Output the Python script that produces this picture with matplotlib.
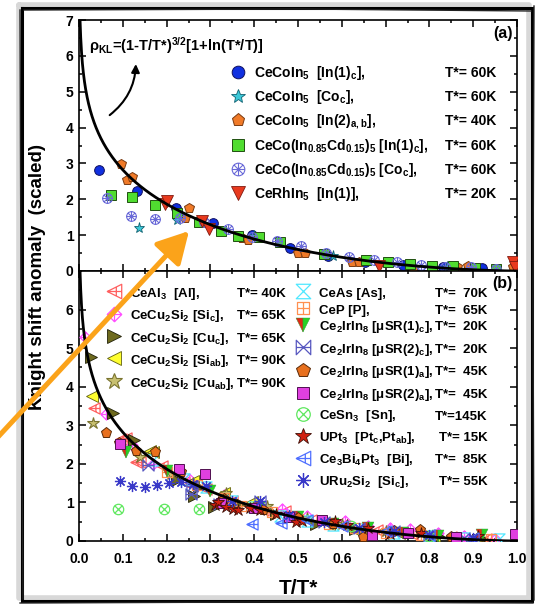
import numpy as np
import matplotlib
matplotlib.use('Agg')
import matplotlib.pyplot as plt
from matplotlib.path import Path
from matplotlib.ticker import MultipleLocator

plt.rcParams.update({
    'font.family': ['Liberation Sans', 'DejaVu Sans'],
    'font.weight': 'bold',
    'mathtext.fontset': 'custom',
    'mathtext.rm': 'Liberation Sans:bold',
    'mathtext.it': 'Liberation Sans:bold',
    'mathtext.bf': 'Liberation Sans:bold',
    'mathtext.sf': 'Liberation Sans:bold',
})

# ---------------- data: panel (a) ----------------
a_in1c_t = [0.045, 0.133, 0.221, 0.307, 0.395, 0.481, 0.568, 0.653, 0.74, 0.83, 0.92]
a_in1c_v = [2.83, 2.23, 1.77, 1.33, 1.00, 0.63, 0.43, 0.24, 0.18, 0.12, 0.07]
a_coc_t = [0.136, 0.224, 0.40, 0.58, 0.84]
a_coc_v = [1.20, 1.42, 0.98, 0.42, 0.10]
a_in2_t = [0.095, 0.11, 0.12, 0.241, 0.25, 0.372, 0.385, 0.50, 0.516, 0.623, 0.64, 0.762, 0.863, 0.888, 0.99]
a_in2_v = [2.99, 2.53, 2.63, 1.49, 1.75, 0.91, 0.87, 0.49, 0.50, 0.26, 0.26, 0.08, 0.12, 0.14, 0.12]
a_cd_in1c_t = [0.073, 0.122, 0.173, 0.223, 0.273, 0.324, 0.363, 0.412, 0.46, 0.56, 0.655, 0.706, 0.756, 0.805, 0.853, 0.904, 0.952]
a_cd_in1c_v = [2.11, 2.05, 1.84, 1.62, 1.37, 1.12, 0.98, 0.94, 0.80, 0.47, 0.31, 0.24, 0.19, 0.15, 0.13, 0.09, 0.06]
a_cd_coc_t = [0.064, 0.119, 0.174, 0.23, 0.285, 0.341, 0.395, 0.451, 0.507, 0.563, 0.616, 0.673, 0.727, 0.78, 0.836, 0.894, 0.952]
a_cd_coc_v = [2.03, 1.52, 1.44, 1.47, 1.37, 1.17, 0.96, 0.84, 0.69, 0.50, 0.38, 0.31, 0.24, 0.18, 0.12, 0.10, 0.06]
a_rh_t = [0.197, 0.202, 0.281, 0.297, 0.685, 0.99, 0.995]
a_rh_v = [1.88, 1.94, 1.40, 1.17, 0.15, 0.24, 0.10]

a_labels = [r'CeCoIn$_5$  [In(1)$_c$],', r'CeCoIn$_5$  [Co$_c$],', r'CeCoIn$_5$  [In(2)$_{a,b}$],',
            r'CeCo(In$_{0.85}$Cd$_{0.15}$)$_5$ [In(1)$_c$],', r'CeCo(In$_{0.85}$Cd$_{0.15}$)$_5$ [Co$_c$],',
            r'CeRhIn$_5$  [In(1)],']
a_tstar = ['T*= 60K', 'T*= 60K', 'T*= 40K', 'T*= 60K', 'T*= 60K', 'T*= 20K']

# ---------------- data: panel (b) ----------------
b_al_t = [0.035, 0.095, 0.108, 0.13, 0.139, 0.19, 0.24, 0.29, 0.35, 0.42, 0.47, 0.53, 0.60, 0.68, 0.76, 0.85, 0.93]
b_al_v = [3.44, 2.64, 2.66, 2.05, 2.04, 1.95, 1.52, 1.35, 1.05, 0.80, 0.78, 0.55, 0.42, 0.28, 0.18, 0.10, 0.05]
b_sic_t = [0.013, 0.062, 0.12, 0.17, 0.25, 0.33, 0.40, 0.464, 0.52, 0.607, 0.66, 0.71, 0.755, 0.82, 0.88, 0.95]
b_sic_v = [5.28, 3.29, 2.50, 2.00, 1.60, 1.20, 0.95, 0.84, 0.65, 0.52, 0.40, 0.33, 0.30, 0.20, 0.12, 0.06]
b_cuc_t = [0.028, 0.078, 0.125, 0.224, 0.262, 0.274, 0.309, 0.37, 0.45, 0.54, 0.63, 0.72, 0.82, 0.92]
b_cuc_v = [4.76, 3.32, 2.63, 1.58, 1.17, 1.40, 0.89, 0.95, 0.70, 0.45, 0.30, 0.20, 0.12, 0.06]
b_siab_t = [0.030, 0.162, 0.17, 0.26, 0.33, 0.394, 0.48, 0.57, 0.643, 0.73, 0.81, 0.90]
b_siab_v = [3.76, 2.34, 2.30, 1.55, 1.25, 1.00, 0.62, 0.45, 0.22, 0.20, 0.14, 0.07]
b_cuab_t = [0.033, 0.139, 0.209, 0.26, 0.335, 0.43, 0.52, 0.60, 0.70, 0.80]
b_cuab_v = [3.05, 2.17, 1.75, 1.50, 1.25, 0.90, 0.60, 0.45, 0.25, 0.13]
b_ceas_t = [0.17, 0.24, 0.29, 0.35, 0.40, 0.46, 0.52, 0.58, 0.65, 0.72, 0.80, 0.88, 0.96]
b_ceas_v = [2.10, 1.62, 1.40, 1.05, 0.88, 0.65, 0.52, 0.42, 0.30, 0.22, 0.13, 0.08, 0.04]
b_cep_t = [0.20, 0.27, 0.33, 0.37, 0.44, 0.50, 0.57, 0.63, 0.70, 0.78, 0.86, 0.94]
b_cep_v = [1.80, 1.45, 1.12, 0.92, 0.75, 0.58, 0.45, 0.35, 0.22, 0.16, 0.09, 0.05]
b_mu1c_t = [0.107, 0.20, 0.30, 0.41, 0.50, 0.58, 0.66, 0.74, 0.82, 0.92]
b_mu1c_v = [2.30, 1.82, 1.30, 0.85, 0.62, 0.45, 0.33, 0.22, 0.14, 0.16]
b_mu2c_t = [0.157, 0.255, 0.259, 0.32, 0.413, 0.48, 0.56, 0.64, 0.72, 0.80, 0.88]
b_mu2c_v = [1.97, 1.21, 1.43, 0.95, 1.05, 0.62, 0.50, 0.35, 0.25, 0.15, 0.09]
b_mu1a_t = [0.062, 0.091, 0.131, 0.173, 0.232, 0.33, 0.42, 0.50, 0.58, 0.648, 0.72, 0.778, 0.85]
b_mu1a_v = [2.79, 2.55, 2.34, 2.30, 1.80, 1.10, 0.80, 0.60, 0.45, 0.10, 0.25, 0.28, 0.10]
b_mu2a_t = [0.094, 0.228, 0.288, 0.325, 0.40, 0.48, 0.555, 0.669, 0.75, 0.86, 0.995]
b_mu2a_v = [2.51, 1.86, 1.74, 0.99, 0.85, 0.62, 0.55, 0.15, 0.20, 0.10, 0.17]
b_sn_t = [0.088, 0.194, 0.274, 0.62, 0.80]
b_sn_v = [0.84, 0.82, 0.84, 0.38, 0.12]
b_upt_t = [0.31, 0.318, 0.335, 0.351, 0.363, 0.39, 0.413, 0.45, 0.495, 0.51, 0.584, 0.611, 0.66, 0.71, 0.78, 0.91]
b_upt_v = [0.93, 1.00, 0.88, 0.82, 0.80, 0.85, 0.80, 0.69, 0.49, 0.52, 0.52, 0.42, 0.35, 0.17, 0.20, 0.13]
b_bi_t = [0.396, 0.462, 0.52, 0.60, 0.70, 0.80, 0.90]
b_bi_v = [0.43, 0.47, 0.55, 0.40, 0.25, 0.15, 0.07]
b_uru_t = [0.094, 0.122, 0.15, 0.177, 0.205, 0.233, 0.26, 0.29, 0.35, 0.413, 0.48, 0.56, 0.64, 0.72, 0.80, 0.90]
b_uru_v = [1.56, 1.43, 1.41, 1.45, 1.51, 1.52, 1.48, 1.42, 1.05, 1.05, 0.68, 0.48, 0.34, 0.25, 0.15, 0.08]

bl_labels = [r'CeAl$_3$  [Al],', r'CeCu$_2$Si$_2$ [Si$_c$],', r'CeCu$_2$Si$_2$ [Cu$_c$],',
             r'CeCu$_2$Si$_2$ [Si$_{ab}$],', r'CeCu$_2$Si$_2$ [Cu$_{ab}$],']
bl_tstar = ['T*= 40K', 'T*= 65K', 'T*= 65K', 'T*= 90K', 'T*= 90K']
br_labels = ['CeAs [As],', 'CeP [P],', r'Ce$_2$IrIn$_8$ [μSR(1)$_c$],', r'Ce$_2$IrIn$_8$ [μSR(2)$_c$],',
             r'Ce$_2$IrIn$_8$ [μSR(1)$_a$],', r'Ce$_2$IrIn$_8$ [μSR(2)$_a$],', r'CeSn$_3$  [Sn],',
             r'UPt$_3$  [Pt$_c$,Pt$_{ab}$],', r'Ce$_3$Bi$_4$Pt$_3$  [Bi],', r'URu$_2$Si$_2$  [Si$_c$],']
br_tstar = ['T*=  70K', 'T*=  65K', 'T*=  20K', 'T*=  20K', 'T*=  45K', 'T*=  45K', 'T*=145K',
            'T*= 15K', 'T*=  85K', 'T*= 55K']

# ---------------- custom markers ----------------
M, L, C = Path.MOVETO, Path.LINETO, Path.CLOSEPOLY
def seg(p0, p1):
    return Path([p0, p1], [M, L])
circ_x = Path.make_compound_path(Path.unit_circle(), seg((-.707, -.707), (.707, .707)), seg((-.707, .707), (.707, -.707)))
circ_xp = Path.make_compound_path(Path.unit_circle(), seg((-.707, -.707), (.707, .707)), seg((-.707, .707), (.707, -.707)),
                                  seg((-1, 0), (1, 0)), seg((0, -1), (0, 1)))
ltri_cross = Path.make_compound_path(Path([(-1, 0), (1, 1), (1, -1), (-1, 0)], [M, L, L, C]),
                                     seg((-1, 0), (1, 0)), seg((0.25, -0.62), (0.25, 0.62)))
diam_plus = Path.make_compound_path(Path([(0, 1), (1, 0), (0, -1), (-1, 0), (0, 1)], [M, L, L, L, C]),
                                    seg((-1, 0), (1, 0)), seg((0, -1), (0, 1)))
sq_plus = Path.make_compound_path(Path([(-1, -1), (1, -1), (1, 1), (-1, 1), (-1, -1)], [M, L, L, L, C]),
                                  seg((-1, 0), (1, 0)), seg((0, -1), (0, 1)))
hourglass = Path([(-1, 1), (1, 1), (-1, -1), (1, -1), (-1, 1)], [M, L, L, L, C])
bowtie = Path.make_compound_path(Path([(-1, -1), (-1, 1), (1, -1), (1, 1), (-1, -1)], [M, L, L, L, C]),
                                 seg((-1, 0), (1, 0)))

def curve(t):
    return (1 - t) ** 1.5 * (1 + np.log(1 / t))

# ---------------- styles ----------------
a_series = [
    (a_in1c_t, a_in1c_v, dict(marker='o', mfc='#1030E0', mec='#101060', ms=7, mew=0.7)),
    (a_coc_t, a_coc_v, dict(marker='*', mfc='#3CC8D8', mec='#106070', ms=8, mew=0.6)),
    (a_in2_t, a_in2_v, dict(marker='p', mfc='#F07A28', mec='#7A3A10', ms=7.5, mew=0.7)),
    (a_cd_in1c_t, a_cd_in1c_v, dict(marker='s', mfc='#50DD30', mec='#205010', ms=6.5, mew=0.7)),
    (a_cd_coc_t, a_cd_coc_v, dict(marker=circ_xp, mfc='none', mec='#6A6AD8', ms=7, mew=0.8)),
    (a_rh_t, a_rh_v, dict(marker='v', mfc='#E83A1E', mec='#801A10', ms=8, mew=0.6)),
]
b_series = [
    (b_al_t, b_al_v, dict(marker=ltri_cross, mfc='none', mec='#FF6060', ms=8, mew=0.9)),
    (b_sic_t, b_sic_v, dict(marker=diam_plus, mfc='none', mec='#FF50FF', ms=8, mew=0.9)),
    (b_cuc_t, b_cuc_v, dict(marker='>', mfc='#6E6A1E', mec='#202008', ms=8, mew=0.6)),
    (b_siab_t, b_siab_v, dict(marker='<', mfc='#FFFF30', mec='#606010', ms=8, mew=0.6)),
    (b_cuab_t, b_cuab_v, dict(marker='*', mfc='#C8C070', mec='#7A7430', ms=9, mew=0.8)),
    (b_ceas_t, b_ceas_v, dict(marker=hourglass, mfc='none', mec='#50E8FF', ms=8, mew=0.9)),
    (b_cep_t, b_cep_v, dict(marker=sq_plus, mfc='none', mec='#FF9050', ms=7, mew=0.9)),
    (b_mu1c_t, b_mu1c_v, dict(marker='v', fillstyle='left', mfc='#E02818', mfcalt='#28D028', mec='#30A030', ms=8, mew=0.3)),
    (b_mu2c_t, b_mu2c_v, dict(marker=bowtie, mfc='none', mec='#5858C0', ms=8, mew=0.9)),
    (b_mu1a_t, b_mu1a_v, dict(marker='p', mfc='#E8701E', mec='#5A2A08', ms=8, mew=0.7)),
    (b_mu2a_t, b_mu2a_v, dict(marker='s', mfc='#E040E0', mec='#501050', ms=7, mew=0.7)),
    (b_sn_t, b_sn_v, dict(marker=circ_x, mfc='none', mec='#60E860', ms=7.5, mew=0.9)),
    (b_upt_t, b_upt_v, dict(marker='*', mfc='#D02010', mec='#401008', ms=9, mew=0.6)),
    (b_bi_t, b_bi_v, dict(marker=ltri_cross, mfc='none', mec='#5070FF', ms=8, mew=0.9)),
    (b_uru_t, b_uru_v, dict(marker=(8, 2, 0), mfc='none', mec='#3838C8', ms=8, mew=0.9)),
]

# ---------------- figure ----------------
fig = plt.figure(figsize=(5.35, 6.06), dpi=100)
W, H = 535, 606
x0, x1 = 79, 517
ax1 = fig.add_axes([x0 / W, 1 - 271 / H, (x1 - x0) / W, 251 / H])
ax2 = fig.add_axes([x0 / W, 1 - 541 / H, (x1 - x0) / W, 270 / H])

tt = np.linspace(0.0012, 0.99999, 1500)
for ax in (ax1, ax2):
    ax.plot(tt, curve(tt), color='k', lw=2.0, zorder=5)
    ax.set_xlim(0, 1)
    ax.set_ylim(0, 7)
    ax.xaxis.set_major_locator(MultipleLocator(0.1))
    ax.xaxis.set_minor_locator(MultipleLocator(0.05))
    ax.yaxis.set_minor_locator(MultipleLocator(0.5))
    ax.tick_params(which='both', direction='in', top=True, right=True, width=1.1, labelsize=10, pad=4)
    ax.tick_params(which='major', length=5)
    ax.tick_params(which='minor', length=2.5)
    for s in ax.spines.values():
        s.set_linewidth(1.2)
ax1.set_yticks(range(8))
ax2.set_yticks(range(7))
ax1.tick_params(labelbottom=False)
ax2.tick_params(axis='x', pad=8)
ax2.set_xticks(np.round(np.arange(0, 1.01, 0.1), 1))
ax2.set_xticklabels([f'{v:.1f}' for v in np.arange(0, 1.01, 0.1)])

for t, v, st in a_series:
    ax1.plot(t, v, ls='none', zorder=4, **st)
for t, v, st in b_series:
    ax2.plot(t, v, ls='none', zorder=4, **st)

# legends (manual)
def legend_rows(ax, series, labels, tstars, rows, xm, xt, xr, fs=10):
    for (t, v, st), lab, ts, r in zip(series, labels, tstars, rows):
        st2 = dict(st)
        st2['ms'] = st['ms'] * 1.3
        ax.plot([xm], [r], ls='none', clip_on=False, zorder=6, **st2)
        ax.text(xt, r - 0.14, lab, fontsize=fs, fontweight='bold', va='baseline', ha='left')
        ax.text(xr, r - 0.14, ts, fontsize=fs, fontweight='bold', va='baseline', ha='right')

legend_rows(ax1, a_series, a_labels, a_tstar, [5.56, 4.87, 4.20, 3.52, 2.85, 2.18], 0.363, 0.40, 0.953, fs=10)
legend_rows(ax2, b_series[:5], bl_labels, bl_tstar, [6.47, 5.89, 5.31, 4.74, 4.14], 0.08, 0.116, 0.471, fs=9.5)
legend_rows(ax2, b_series[5:], br_labels, br_tstar,
            [6.47, 6.03, 5.60, 5.02, 4.44, 3.85, 3.29, 2.73, 2.15, 1.58], 0.512, 0.547, 0.932, fs=9.5)

ax1.text(0.99, 6.63, '(a)', fontsize=11.5, fontweight='bold', ha='right', va='center')
ax2.text(0.99, 6.67, '(b)', fontsize=11.5, fontweight='bold', ha='right', va='center')
ax1.text(0.022, 6.3, r'ρ$_{KL}$=(1-T/T*)$^{3/2}$[1+ln(T*/T)]', fontsize=10.5, fontweight='bold', ha='left', va='center')
ax1.annotate('', xy=(0.13, 5.85), xytext=(0.065, 4.3),
             arrowprops=dict(arrowstyle='-|>', color='k', lw=1.5, mutation_scale=12,
                             connectionstyle='arc3,rad=0.25'))

fig.text(38 / W, 1 - 277 / H, 'Knight shift anomaly  (scaled)', rotation=90, fontsize=13.5,
         fontweight='bold', ha='center', va='center')
fig.text(298 / W, 1 - 588 / H, 'T/T*', fontsize=15, fontweight='bold', ha='center', va='center')

# overlay: sketch frame and orange arrow (figure pixels)
ov = fig.add_axes([0, 0, 1, 1], zorder=10)
ov.set_xlim(0, W)
ov.set_ylim(H, 0)
ov.axis('off')
ov.patch.set_alpha(0)
ov.plot([19, 529, 529, 19, 19], [5, 5, 598, 598, 5], color='#d8d8d8', lw=4, solid_capstyle='round')
ov.plot([22, 532, 532, 22, 22], [8, 8, 601, 601, 8], color='k', lw=2.2, solid_joinstyle='miter')
ov.plot([24, 300, 531], [10, 9, 11], color='#222222', lw=1.0)
ov.plot([20, 21, 23], [10, 300, 599], color='#222222', lw=1.0)
ov.plot([534, 533, 534], [6, 300, 600], color='#222222', lw=1.0)
ov.plot([20, 260, 533], [603, 602, 603], color='#222222', lw=1.0)
ov.annotate('', xy=(189, 231), xytext=(-2, 437),
            arrowprops=dict(arrowstyle='-|>,head_length=1.0,head_width=0.55', color='#FBA31A',
                            lw=3.6, mutation_scale=19, shrinkA=0, shrinkB=0))

fig.savefig('out.png', dpi=100)
